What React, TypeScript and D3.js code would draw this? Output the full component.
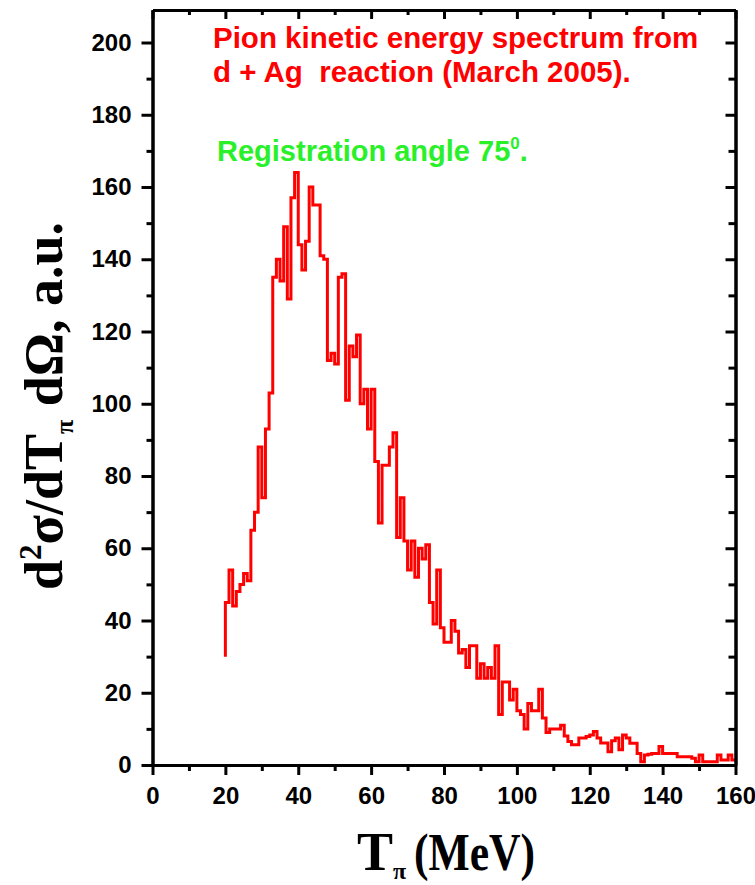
import { useEffect, useRef } from "react";
import * as d3 from "d3";

// pion spectrum, 1 MeV bins from 20 MeV; the step line starts at leftEdgeCount
const binStartMeV = 20;
const binWidthMeV = 1;
const leftEdgeCount = 30;
const binCounts = [
  45, 54, 44, 48, 50, 53, 51, 65, 70, 88, // 20-30
  74, 93, 103, 135, 140, 134, 149, 129, 157, 164, // 30-40
  144, 137, 145, 160, 155, 155, 141, 140, 112, 114, // 40-50
  111, 135, 136, 101, 116, 113, 119, 100, 104, 93, // 50-60
  104, 84, 67, 83, 83, 88, 92, 63, 74, 62, // 60-70
  54, 62, 52, 60, 57, 61, 45, 39, 54, 38, // 70-80
  34, 34, 40, 37, 31, 32, 27, 33, 33, 24, // 80-90
  28, 24, 27, 24, 33, 14, 23, 23, 18, 21, // 90-100
  15, 14, 10, 17, 15, 15, 21, 13, 9, 10, // 100-110
  10, 10, 11, 8, 6.5, 5.6, 5.6, 7.5, 7.5, 7.9, // 110-120
  8.3, 9.3, 7.5, 6.1, 6.1, 3.7, 6.7, 7.5, 4.2, 8.3, // 120-130
  7.5, 6, 6, 3.2, 0.9, 2.8, 3, 3.2, 3.2, 5.1, // 130-140
  3.2, 3.2, 3.2, 3.2, 2.3, 2.3, 2.3, 2.3, 1.9, 0.9, // 140-150
  2.8, 0.9, 0.9, 0.9, 0.9, 2.8, 1.4, 1.4, 2.8, 1.4, // 150-160
];

const xMajorTicks = [0, 20, 40, 60, 80, 100, 120, 140, 160];
const xMinorTicks = [10, 30, 50, 70, 90, 110, 130, 150];
const yMajorTicks = [0, 20, 40, 60, 80, 100, 120, 140, 160, 180, 200];
const yMinorTicks = [10, 30, 50, 70, 90, 110, 130, 150, 170, 190];

const titleLines = ["Pion kinetic energy spectrum from", "d + Ag  reaction (March 2005)."];
const angleText = "Registration angle 75";

export default function App() {
  const ref = useRef<SVGSVGElement>(null);

  useEffect(() => {
    const svg = d3.select(ref.current);
    svg.selectAll("*").remove();

    const left = 152.5, right = 735.5, top = 10, bottom = 765;
    const x = d3.scaleLinear().domain([0, 160]).range([left, right]);
    const y = d3.scaleLinear().domain([0, 209]).range([bottom, top]);

    const points = [{ t: binStartMeV, v: leftEdgeCount }].concat(
      binCounts.map((v, i) => ({ t: binStartMeV + (i + 1) * binWidthMeV, v }))
    );

    const line = d3
      .line<{ t: number; v: number }>()
      .x((d) => x(d.t))
      .y((d) => y(d.v))
      .curve(d3.curveStepBefore);

    svg
      .append("path")
      .datum(points)
      .attr("d", line)
      .attr("fill", "none")
      .attr("stroke", "#ff0000")
      .attr("stroke-width", 3)
      .attr("stroke-linejoin", "miter");

    const styleAxis = (g: any) => {
      g.selectAll("path").attr("stroke", "#000").attr("stroke-width", 3);
      g.selectAll("line").attr("stroke", "#000").attr("stroke-width", 3);
      g.selectAll("text")
        .attr("fill", "#000")
        .attr("font-family", "'Liberation Sans', Arial, sans-serif")
        .attr("font-weight", "bold")
        .attr("font-size", 24);
    };

    // left
    svg.append("g").attr("transform", `translate(${left},0)`)
      .call(d3.axisLeft(y).tickValues(yMinorTicks).tickSize(6).tickSizeOuter(0).tickFormat(() => ""))
      .call(styleAxis);
    svg.append("g").attr("transform", `translate(${left},0)`)
      .call(d3.axisLeft(y).tickValues(yMajorTicks).tickSize(11).tickPadding(10).tickSizeOuter(0).tickFormat(d3.format("d")))
      .call(styleAxis);
    // right (inward)
    svg.append("g").attr("transform", `translate(${right},0)`)
      .call(d3.axisLeft(y).tickValues(yMinorTicks).tickSize(7).tickSizeOuter(0).tickFormat(() => ""))
      .call(styleAxis);
    svg.append("g").attr("transform", `translate(${right},0)`)
      .call(d3.axisLeft(y).tickValues(yMajorTicks).tickSize(10).tickSizeOuter(0).tickFormat(() => ""))
      .call(styleAxis);
    // bottom
    svg.append("g").attr("transform", `translate(0,${bottom})`)
      .call(d3.axisBottom(x).tickValues(xMinorTicks).tickSize(6).tickSizeOuter(0).tickFormat(() => ""))
      .call(styleAxis);
    svg.append("g").attr("transform", `translate(0,${bottom})`)
      .call(d3.axisBottom(x).tickValues(xMajorTicks).tickSize(10).tickPadding(12).tickSizeOuter(0).tickFormat(d3.format("d")))
      .call(styleAxis);
    // top (inward)
    svg.append("g").attr("transform", `translate(0,${top})`)
      .call(d3.axisBottom(x).tickValues(xMinorTicks).tickSize(5).tickSizeOuter(0).tickFormat(() => ""))
      .call(styleAxis);
    svg.append("g").attr("transform", `translate(0,${top})`)
      .call(d3.axisBottom(x).tickValues(xMajorTicks).tickSize(9).tickSizeOuter(0).tickFormat(() => ""))
      .call(styleAxis);

    // titles inside the frame
    const sans = "'Liberation Sans', Arial, sans-serif";
    titleLines.forEach((s, i) => {
      svg.append("text")
        .attr("x", 213).attr("y", 48 + i * 34)
        .attr("fill", "#ff0000")
        .attr("font-family", sans).attr("font-weight", "bold").attr("font-size", 29.5)
        .style("white-space", "pre")
        .text(s);
    });
    const ang = svg.append("text")
      .attr("x", 217).attr("y", 161)
      .attr("fill", "#2af02a")
      .attr("font-family", sans).attr("font-weight", "bold").attr("font-size", 29);
    ang.append("tspan").text(angleText);
    ang.append("tspan").attr("dy", -12).attr("font-size", 17).text("0");
    ang.append("tspan").attr("dy", 12).text(".");

    // axis titles
    const serif = "'Liberation Serif', 'Times New Roman', serif";
    const xt = svg.append("text")
      .attr("x", 357).attr("y", 870)
      .attr("font-family", serif).attr("font-weight", "bold").attr("font-size", 54);
    xt.append("tspan").text("T");
    xt.append("tspan").attr("dy", 9).attr("font-size", 24).text("π");
    svg.append("text")
      .attr("x", 414).attr("y", 870)
      .attr("font-family", serif).attr("font-weight", "bold").attr("font-size", 52)
      .attr("textLength", 121).attr("lengthAdjust", "spacingAndGlyphs")
      .text("(MeV)");

    const yt = svg.append("text")
      .attr("transform", "translate(62,590) rotate(-90)")
      .attr("font-family", serif).attr("font-weight", "bold").attr("font-size", 54);
    yt.append("tspan").text("d");
    yt.append("tspan").attr("dy", -21).attr("font-size", 31).text("2");
    yt.append("tspan").attr("dy", 21).text("σ/dT");
    yt.append("tspan").attr("dy", 11).attr("font-size", 26).text("π");
    yt.append("tspan").attr("dy", -11).style("white-space", "pre").text(" dΩ, a.u.");
  }, []);

  return (
    <svg
      ref={ref}
      width={755}
      height={885}
      style={{ position: "absolute", left: 0, top: 0, background: "#fff", display: "block" }}
    />
  );
}
